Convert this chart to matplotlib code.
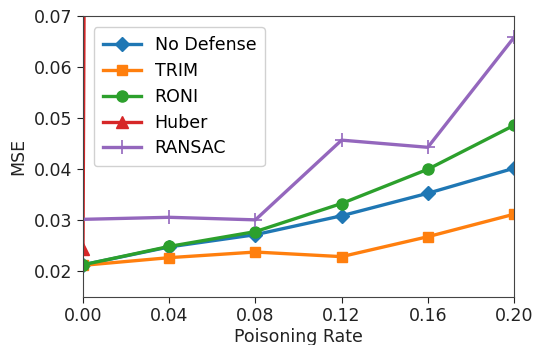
import matplotlib
matplotlib.use("Agg")
import matplotlib.pyplot as plt

rates = [0.00, 0.04, 0.08, 0.12, 0.16, 0.20]
no_defense = [0.0213, 0.0248, 0.0272, 0.0309, 0.0353, 0.0402]
trim = [0.0212, 0.0227, 0.0238, 0.0229, 0.0268, 0.0312]
roni = [0.0213, 0.0249, 0.0278, 0.0333, 0.0400, 0.0486]
huber = [0.0244, 3.9, 4.6, 5.3, 6.1, 7.2]
ransac = [0.0302, 0.0306, 0.0301, 0.0457, 0.0443, 0.0658]
xticks = [0.00, 0.04, 0.08, 0.12, 0.16, 0.20]
yticks = [0.02, 0.03, 0.04, 0.05, 0.06, 0.07]

plt.rcParams['font.family'] = ['DejaVu Sans']
fig = plt.figure(figsize=(5.35, 3.45), dpi=100)
ax = fig.add_axes([83/535, 1 - 297/345, (514 - 83)/535, (297 - 16)/345])

lw = 2.4
ax.plot(rates, no_defense, color='#1f77b4', marker='D', ms=7.5, lw=lw, label='No Defense')
ax.plot(rates, trim, color='#ff7f0e', marker='s', ms=7.5, lw=lw, label='TRIM')
ax.plot(rates, roni, color='#2ca02c', marker='o', ms=8, lw=lw, label='RONI')
ax.plot(rates, huber, color='#d62728', marker='^', ms=8, lw=lw, label='Huber')
ax.plot(rates, ransac, color='#9467bd', marker='+', ms=10, mew=1.2, lw=lw, label='RANSAC')

ax.set_xlim(0, 0.20)
ax.set_ylim(0.015, 0.07)
ax.set_xticks(xticks)
ax.set_xticklabels([f"{v:.2f}" for v in xticks])
ax.set_yticks(yticks)
ax.set_yticklabels([f"{v:.2f}" for v in yticks])
ax.tick_params(labelsize=12.5, colors='#222222', length=4)
for s in ax.spines.values():
    s.set_color('#444444')
ax.set_xlabel('Poisoning Rate', fontsize=12.5, color='#222222', labelpad=2)
ax.set_ylabel('MSE', fontsize=12.5, color='#222222', labelpad=5)

ax.legend(loc='upper left', fontsize=12.5, handlelength=2.2, borderpad=0.5,
          labelspacing=0.45, framealpha=0.9, bbox_to_anchor=(0.005, 0.99))

fig.savefig('out.png', dpi=100)
